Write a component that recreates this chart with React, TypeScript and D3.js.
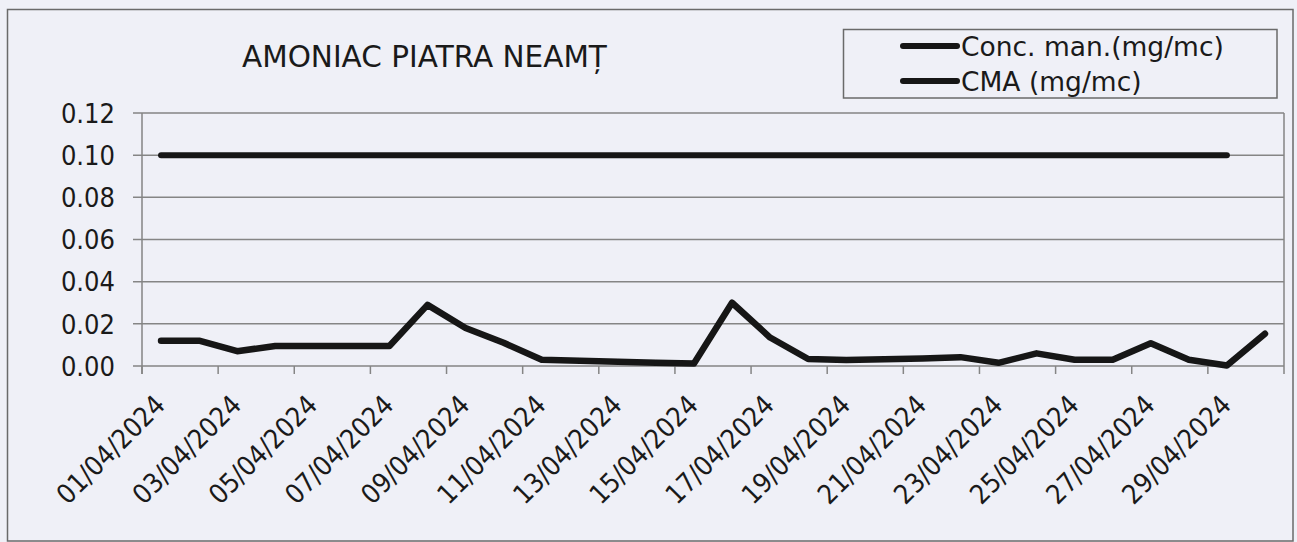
import React, { useEffect, useRef } from 'react';
import * as d3 from 'd3';

// categories (days of April 2024)
const dates = [
  '01/04/2024', '02/04/2024', '03/04/2024', '04/04/2024', '05/04/2024',
  '06/04/2024', '07/04/2024', '08/04/2024', '09/04/2024', '10/04/2024',
  '11/04/2024', '12/04/2024', '13/04/2024', '14/04/2024', '15/04/2024',
  '16/04/2024', '17/04/2024', '18/04/2024', '19/04/2024', '20/04/2024',
  '21/04/2024', '22/04/2024', '23/04/2024', '24/04/2024', '25/04/2024',
  '26/04/2024', '27/04/2024', '28/04/2024', '29/04/2024', '30/04/2024',
];

// Conc. man. (mg/mc)
const concValues = [
  0.012, 0.012, 0.007, 0.0095, 0.0095, 0.0095, 0.0095, 0.029, 0.018, 0.011,
  0.003, 0.0025, 0.002, 0.0015, 0.0012, 0.030, 0.0135, 0.0033, 0.0028, 0.0032,
  0.0036, 0.0042, 0.0015, 0.006, 0.003, 0.003, 0.0108, 0.003, 0.0002, 0.0153,
];

// CMA (mg/mc) - drawn up to 29/04
const cmaValues = [
  0.1, 0.1, 0.1, 0.1, 0.1, 0.1, 0.1, 0.1, 0.1, 0.1,
  0.1, 0.1, 0.1, 0.1, 0.1, 0.1, 0.1, 0.1, 0.1, 0.1,
  0.1, 0.1, 0.1, 0.1, 0.1, 0.1, 0.1, 0.1, 0.1, null,
];

const yTicks = [0, 0.02, 0.04, 0.06, 0.08, 0.1, 0.12];
const labelEvery = 2;

const title = 'AMONIAC PIATRA NEAMȚ';
const legendNames = ['Conc. man.(mg/mc)', 'CMA (mg/mc)'];

export default function App() {
  const ref = useRef<SVGSVGElement | null>(null);

  useEffect(() => {
    const width = 1297;
    const height = 542;
    const plotLeft = 142;
    const plotRight = 1284;
    const plotTop = 113;
    const plotBottom = 366;
    const bg = '#eff0f7';
    const gridColor = '#858585';
    const lineColor = '#161616';
    const numFont = "'DejaVu Sans Condensed', 'DejaVu Sans', sans-serif";
    const textFont = "'DejaVu Sans', sans-serif";

    const svg = d3.select(ref.current);
    svg.selectAll('*').remove();
    svg.attr('width', width).attr('height', height);

    svg.append('rect').attr('width', width).attr('height', height).attr('fill', bg);

    // chart area border
    svg.append('rect')
      .attr('x', 7.5).attr('y', 9.5)
      .attr('width', 1293 - 7.5).attr('height', 541 - 9.5)
      .attr('fill', 'none').attr('stroke', '#6a6a6a').attr('stroke-width', 1.5);

    const x = d3.scaleBand<string>().domain(dates).range([plotLeft, plotRight]).paddingInner(0).paddingOuter(0);
    const y = d3.scaleLinear().domain([0, 0.12]).range([plotBottom, plotTop]);

    // gridlines
    svg.append('g')
      .selectAll('line')
      .data(yTicks)
      .join('line')
      .attr('x1', plotLeft - 9).attr('x2', plotRight)
      .attr('y1', d => y(d)).attr('y2', d => y(d))
      .attr('stroke', gridColor).attr('stroke-width', 1.5);

    // plot area sides
    svg.append('line')
      .attr('x1', plotLeft).attr('x2', plotLeft)
      .attr('y1', plotTop).attr('y2', plotBottom + 8)
      .attr('stroke', gridColor).attr('stroke-width', 1.5);
    svg.append('line')
      .attr('x1', plotRight).attr('x2', plotRight)
      .attr('y1', plotTop).attr('y2', plotBottom + 8)
      .attr('stroke', gridColor).attr('stroke-width', 1.5);

    // y labels
    svg.append('g')
      .selectAll('text')
      .data(yTicks)
      .join('text')
      .attr('x', 115)
      .attr('y', d => y(d))
      .attr('dy', '0.36em')
      .attr('text-anchor', 'end')
      .attr('font-family', numFont)
      .attr('font-size', 27)
      .attr('fill', '#1a1a1a')
      .text(d => d3.format('.2f')(d));

    // x ticks at category boundaries, every 2nd
    const tickDates = dates.filter((_, i) => i % labelEvery === 0);
    svg.append('g')
      .selectAll('line')
      .data(tickDates)
      .join('line')
      .attr('x1', d => x(d)!).attr('x2', d => x(d)!)
      .attr('y1', plotBottom).attr('y2', plotBottom + 8)
      .attr('stroke', gridColor).attr('stroke-width', 1.5);

    // x labels
    svg.append('g')
      .selectAll('text')
      .data(tickDates)
      .join('text')
      .attr('transform', d => `translate(${x(d)! + x.bandwidth() / 2 - 1},400) rotate(-45)`)
      .attr('text-anchor', 'end')
      .attr('dy', '0.35em')
      .attr('font-family', numFont)
      .attr('font-size', 27)
      .attr('fill', '#1a1a1a')
      .text(d => d);

    const line = d3.line<number | null>()
      .defined(d => d !== null)
      .x((_, i) => x(dates[i])! + x.bandwidth() / 2)
      .y(d => y(d as number));

    svg.append('path')
      .datum(cmaValues)
      .attr('d', line)
      .attr('fill', 'none')
      .attr('stroke', lineColor)
      .attr('stroke-width', 6)
      .attr('stroke-linecap', 'round')
      .attr('stroke-linejoin', 'round');

    svg.append('path')
      .datum(concValues)
      .attr('d', line)
      .attr('fill', 'none')
      .attr('stroke', lineColor)
      .attr('stroke-width', 6.5)
      .attr('stroke-linecap', 'round')
      .attr('stroke-linejoin', 'round');

    // title
    svg.append('text')
      .attr('x', 242).attr('y', 67)
      .attr('font-family', textFont)
      .attr('font-size', 29.5)
      .attr('fill', '#1a1a1a')
      .text(title);

    // legend
    const legend = svg.append('g');
    legend.append('rect')
      .attr('x', 843.5).attr('y', 29.5)
      .attr('width', 1277 - 843.5).attr('height', 98 - 29.5)
      .attr('fill', 'none').attr('stroke', '#6a6a6a').attr('stroke-width', 1.5);
    const rows = legend.selectAll('g.row')
      .data(legendNames)
      .join('g')
      .attr('class', 'row')
      .attr('transform', (_, i) => `translate(0,${46 + i * 35})`);
    rows.append('line')
      .attr('x1', 903).attr('x2', 957)
      .attr('stroke', lineColor).attr('stroke-width', 6).attr('stroke-linecap', 'round');
    rows.append('text')
      .attr('x', 961)
      .attr('dy', '0.36em')
      .attr('font-family', textFont)
      .attr('font-size', 26.5)
      .attr('fill', '#1a1a1a')
      .text(d => d);
  }, []);

  return (
    <div style={{ position: 'absolute', left: 0, top: 0 }}>
      <svg ref={ref} style={{ display: 'block' }}></svg>
    </div>
  );
}
